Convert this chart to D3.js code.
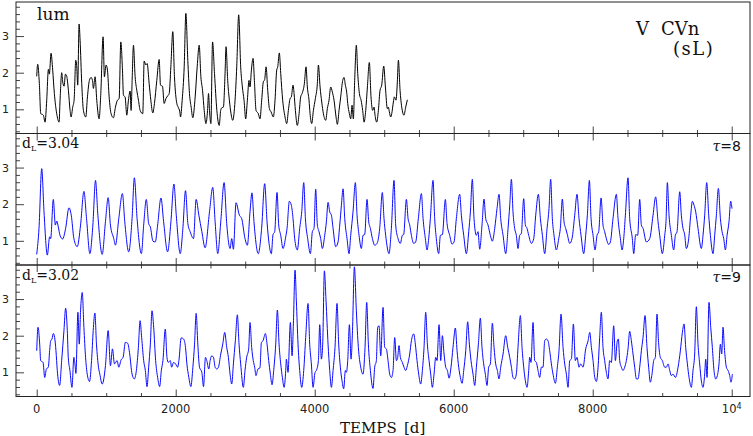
<!DOCTYPE html>
<html>
<head>
<meta charset="utf-8">
<script src="https://cdnjs.cloudflare.com/ajax/libs/d3/7.8.5/d3.min.js"></script>
<style>
  body { margin: 0; background: #fff; }
  svg { display: block; }
</style>
</head>
<body>
<div id="chart"></div>
<script>
// Observed luminosity of V CVn, [time (d), lum]
var lumData = [
  [0,1.90],[14,2.23],[38,1.70],[58,0.88],[82,0.86],[96,0.84],[120,0.65],[144,1.25],[168,2.09],[182,1.96],
  [206,2.53],[230,2.07],[254,1.43],[288,0.88],[322,0.65],[336,1.25],[360,2.00],[374,1.75],[394,1.63],[413,1.96],
  [432,1.90],[456,1.52],[480,0.97],[494,0.79],[518,1.06],[538,1.25],[562,2.34],[576,2.16],[590,1.66],[610,3.33],
  [624,2.89],[648,1.70],[672,0.97],[706,0.79],[730,1.34],[758,1.79],[782,1.87],[802,1.79],[816,1.57],[840,1.89],
  [864,1.25],[898,0.74],[922,1.43],[955,2.98],[974,1.89],[998,2.21],[1018,2.07],[1042,1.34],[1070,0.88],[1104,0.77],
  [1133,1.06],[1162,1.25],[1186,1.29],[1210,2.84],[1234,2.07],[1248,1.38],[1272,1.34],[1296,0.84],[1320,1.25],[1344,1.50],
  [1358,0.97],[1373,1.79],[1392,2.75],[1416,1.89],[1440,1.52],[1464,1.25],[1488,0.97],[1526,0.88],[1546,2.32],[1570,2.21],
  [1589,2.25],[1618,1.70],[1642,1.25],[1670,0.90],[1694,1.16],[1728,1.79],[1762,2.36],[1781,1.66],[1810,1.63],[1834,1.16],
  [1858,1.29],[1886,1.37],[1906,1.43],[1930,2.16],[1958,3.12],[1982,1.89],[2016,1.16],[2035,1.06],[2059,0.93],[2069,0.79],
  [2093,1.25],[2122,2.16],[2146,3.62],[2174,2.34],[2198,1.43],[2222,1.06],[2246,0.77],[2280,1.34],[2309,2.16],[2338,2.75],
  [2362,1.89],[2386,1.52],[2410,0.97],[2434,0.61],[2458,0.97],[2472,1.43],[2486,0.97],[2506,0.61],[2530,2.84],[2558,1.98],
  [2592,0.97],[2626,0.56],[2647,0.97],[2667,1.05],[2686,1.06],[2710,1.98],[2724,2.71],[2748,1.79],[2772,1.25],[2796,0.88],
  [2820,0.70],[2854,1.25],[2878,2.16],[2906,3.58],[2935,2.16],[2959,1.61],[2983,1.25],[3007,0.74],[3031,1.25],[3055,1.79],
  [3069,1.61],[3089,2.07],[3113,2.39],[3132,1.79],[3156,0.97],[3189,0.88],[3213,0.74],[3237,1.25],[3261,1.75],[3280,1.81],
  [3300,2.16],[3324,1.52],[3348,1.02],[3372,0.93],[3405,0.79],[3429,1.25],[3453,2.07],[3468,2.16],[3491,2.54],[3511,1.98],
  [3539,1.25],[3573,0.79],[3597,0.61],[3621,0.97],[3645,1.29],[3664,1.34],[3688,1.66],[3703,1.43],[3722,0.97],[3750,0.56],
  [3775,0.88],[3798,1.34],[3818,1.43],[3851,1.70],[3875,2.16],[3894,1.61],[3918,1.25],[3933,0.88],[3957,0.61],[3981,0.97],
  [4009,1.29],[4038,1.70],[4053,2.21],[4077,1.61],[4101,1.20],[4125,0.88],[4158,0.70],[4182,1.02],[4206,1.25],[4230,1.61],
  [4254,1.47],[4278,1.25],[4307,0.79],[4326,0.59],[4350,0.97],[4374,1.34],[4403,1.79],[4422,1.87],[4441,1.66],[4460,1.47],
  [4475,1.16],[4499,0.88],[4518,0.74],[4537,1.11],[4556,0.74],[4575,1.79],[4599,2.75],[4619,1.98],[4643,1.43],[4667,1.25],
  [4690,0.97],[4710,0.65],[4734,0.97],[4758,1.61],[4786,2.28],[4810,1.34],[4834,0.97],[4854,1.06],[4868,0.84],[4892,0.65],
  [4916,0.97],[4940,1.52],[4964,1.66],[4993,2.18],[5017,1.61],[5045,1.02],[5060,1.06],[5074,0.93],[5093,0.79],[5108,0.88],
  [5132,1.20],[5146,1.34],[5170,1.25],[5189,1.75],[5204,2.34],[5228,1.52],[5252,1.06],[5285,0.84],[5309,1.06],[5333,1.26]
];

// Reconstruction with tau = 8 (dL = 3.04)
var tau8Data = [
  [0,0.63],[33,1.34],[72,2.97],[105,1.79],[153,0.61],[186,1.11],[201,1.06],[239,2.13],[268,1.43],[287,1.54],
  [311,1.38],[335,1.15],[373,1.05],[416,1.34],[464,1.90],[497,1.70],[535,1.06],[583,0.84],[631,1.43],[679,2.35],
  [717,1.61],[765,0.65],[808,1.43],[846,2.65],[880,1.70],[942,0.63],[989,1.52],[1028,2.18],[1061,1.43],[1109,1.06],
  [1133,0.88],[1181,1.61],[1233,2.29],[1267,1.52],[1324,0.70],[1372,1.61],[1405,2.72],[1444,1.61],[1506,0.65],[1539,1.43],
  [1577,2.13],[1611,1.47],[1635,1.38],[1673,0.99],[1706,0.97],[1740,1.43],[1788,2.17],[1826,1.52],[1883,0.70],[1931,1.52],
  [1974,2.55],[2008,1.70],[2065,0.65],[2103,1.34],[2141,2.37],[2175,1.47],[2208,1.25],[2256,1.06],[2294,2.13],[2333,1.70],
  [2376,1.25],[2423,0.81],[2486,1.79],[2533,2.46],[2567,1.52],[2605,0.65],[2648,1.52],[2696,2.59],[2734,1.47],[2782,0.79],
  [2806,1.06],[2830,0.77],[2868,2.04],[2916,1.70],[2949,1.61],[2997,1.06],[3031,0.88],[3069,1.79],[3097,2.31],[3126,1.52],
  [3188,0.65],[3236,1.34],[3280,2.56],[3314,1.52],[3343,0.93],[3376,0.65],[3400,1.17],[3424,1.25],[3458,2.32],[3482,1.43],
  [3511,1.15],[3544,0.79],[3583,1.11],[3602,1.34],[3635,2.08],[3664,1.97],[3688,1.61],[3712,1.06],[3750,0.75],[3784,1.34],
  [3813,1.79],[3842,2.59],[3866,1.61],[3899,1.06],[3938,0.65],[3966,1.25],[3990,1.34],[4014,2.41],[4038,1.43],[4062,1.25],
  [4086,1.06],[4110,0.79],[4144,1.15],[4168,1.52],[4192,2.05],[4216,1.79],[4240,1.70],[4264,1.34],[4302,0.84],[4336,0.97],
  [4360,1.43],[4384,1.97],[4408,2.42],[4432,1.61],[4465,1.06],[4494,0.65],[4518,1.15],[4551,1.79],[4585,2.59],[4609,1.70],
  [4638,1.15],[4671,0.79],[4695,1.15],[4719,1.17],[4753,2.13],[4777,1.52],[4801,1.34],[4830,1.06],[4863,0.88],[4897,0.93],
  [4935,1.34],[4973,2.32],[4997,1.61],[5021,1.15],[5069,0.65],[5103,1.34],[5141,2.65],[5165,1.43],[5199,1.06],[5232,0.93],
  [5261,1.15],[5280,1.17],[5319,2.13],[5343,1.61],[5367,1.43],[5391,1.15],[5424,0.93],[5453,0.97],[5491,1.61],[5535,2.29],
  [5559,1.61],[5592,1.06],[5616,0.75],[5640,1.06],[5664,1.61],[5702,2.65],[5726,1.61],[5750,1.06],[5784,0.65],[5808,1.15],
  [5837,1.17],[5880,2.13],[5904,1.47],[5942,1.15],[5976,0.91],[6005,0.97],[6038,1.61],[6086,2.27],[6110,1.70],[6144,1.15],
  [6182,0.65],[6216,1.25],[6240,1.79],[6268,2.68],[6292,1.61],[6326,1.15],[6350,1.25],[6374,0.77],[6407,1.43],[6436,2.14],
  [6460,1.61],[6494,1.43],[6527,1.15],[6556,0.99],[6590,1.34],[6623,1.88],[6652,2.27],[6676,1.61],[6710,1.15],[6748,0.65],
  [6782,1.34],[6806,1.97],[6830,2.68],[6853,1.79],[6877,1.34],[6901,1.15],[6925,0.79],[6949,1.15],[6973,1.20],[7007,2.15],
  [7031,1.43],[7055,1.34],[7079,1.15],[7117,0.93],[7151,1.06],[7180,1.70],[7218,2.27],[7247,1.61],[7276,1.15],[7309,0.65],
  [7343,1.34],[7371,1.88],[7395,2.68],[7419,1.61],[7443,1.15],[7477,0.75],[7511,1.06],[7534,1.34],[7563,2.14],[7587,1.52],
  [7611,1.34],[7635,1.17],[7669,0.93],[7702,1.06],[7741,1.70],[7774,2.27],[7803,1.61],[7832,1.15],[7870,0.65],[7899,1.15],
  [7923,1.70],[7952,2.65],[7976,1.61],[8005,1.15],[8033,0.75],[8062,1.15],[8086,1.25],[8120,2.17],[8148,1.43],[8172,1.25],
  [8196,1.06],[8230,0.90],[8254,0.97],[8292,1.61],[8340,2.27],[8364,1.61],[8398,1.06],[8422,0.75],[8446,1.06],[8470,1.70],
  [8508,2.72],[8532,1.61],[8570,1.06],[8590,0.65],[8618,1.17],[8647,1.15],[8676,2.13],[8700,1.43],[8724,1.34],[8772,0.97],
  [8820,1.06],[8868,1.70],[8906,2.20],[8940,1.52],[8964,1.15],[9002,0.65],[9036,1.15],[9055,1.55],[9074,2.59],[9098,1.70],
  [9132,1.15],[9165,0.75],[9189,1.15],[9213,1.25],[9252,2.34],[9275,1.70],[9299,1.34],[9323,1.17],[9347,0.79],[9381,1.06],
  [9410,1.70],[9434,2.08],[9458,1.97],[9482,1.79],[9515,1.34],[9563,0.79],[9587,1.15],[9611,1.70],[9640,2.59],[9669,1.70],
  [9693,1.15],[9731,0.65],[9755,1.15],[9779,1.70],[9808,2.43],[9837,1.61],[9861,1.25],[9885,1.06],[9909,0.75],[9933,1.15],
  [9961,1.52],[9985,2.08],[10004,1.88]
];

// Reconstruction with tau = 9 (dL = 3.02)
var tau9Data = [
  [0,1.59],[19,2.23],[43,1.77],[57,1.32],[91,1.27],[115,0.86],[139,1.09],[167,1.14],[186,1.59],[201,1.86],
  [220,1.91],[239,2.06],[258,1.95],[277,1.59],[296,1.05],[330,0.64],[359,1.32],[392,2.14],[416,2.75],[440,2.14],
  [454,1.41],[478,1.05],[507,0.59],[535,1.41],[550,1.23],[564,0.97],[593,2.64],[612,1.77],[631,2.68],[655,3.18],
  [679,2.23],[703,1.41],[727,0.95],[760,0.75],[789,1.32],[813,2.14],[837,2.62],[860,1.77],[889,1.14],[908,0.95],
  [942,0.68],[989,1.18],[1028,2.14],[1061,1.18],[1090,1.64],[1119,1.23],[1157,1.32],[1181,1.14],[1214,1.34],[1243,1.41],
  [1276,1.82],[1310,1.79],[1338,1.50],[1372,0.95],[1405,0.82],[1434,1.05],[1463,1.68],[1487,2.41],[1510,1.95],[1539,1.32],
  [1563,1.05],[1587,0.61],[1611,1.14],[1635,1.77],[1659,2.68],[1683,2.23],[1711,1.32],[1740,0.86],[1769,0.61],[1793,1.05],
  [1816,1.32],[1850,2.18],[1874,1.41],[1893,1.27],[1922,1.32],[1941,1.14],[1969,1.27],[1998,1.23],[2027,1.14],[2046,1.32],
  [2079,1.94],[2113,1.91],[2141,1.68],[2161,1.23],[2189,0.86],[2218,0.61],[2247,1.14],[2271,1.77],[2294,2.61],[2318,1.77],
  [2342,1.14],[2376,1.00],[2400,0.61],[2428,1.41],[2447,1.32],[2476,1.09],[2495,1.32],[2519,1.45],[2543,1.41],[2567,1.14],
  [2591,1.09],[2615,1.14],[2648,1.50],[2677,1.77],[2705,2.09],[2734,1.68],[2758,1.41],[2782,0.95],[2806,0.68],[2830,1.23],
  [2858,1.86],[2887,2.57],[2911,1.77],[2935,1.23],[2973,0.59],[2997,1.05],[3021,1.41],[3050,1.64],[3069,2.36],[3093,1.68],
  [3116,1.32],[3136,1.14],[3155,0.91],[3183,1.09],[3212,1.12],[3233,1.82],[3256,1.86],[3290,2.06],[3314,1.77],[3338,1.32],
  [3362,0.95],[3386,0.66],[3410,1.05],[3439,1.77],[3463,2.70],[3487,1.77],[3511,1.23],[3535,0.86],[3559,0.59],[3583,1.05],
  [3592,1.36],[3616,1.00],[3650,2.36],[3674,1.45],[3693,2.32],[3717,3.79],[3736,2.95],[3760,1.77],[3784,1.05],[3813,0.59],
  [3842,1.05],[3870,1.95],[3904,2.88],[3928,1.77],[3952,1.23],[3976,0.59],[4005,1.00],[4024,1.05],[4053,1.32],[4072,2.30],
  [4096,1.36],[4115,1.77],[4139,3.77],[4163,2.95],[4192,1.77],[4216,1.05],[4240,0.59],[4264,1.05],[4292,1.68],[4321,2.88],
  [4345,1.77],[4369,1.14],[4393,0.77],[4417,0.55],[4441,1.05],[4456,1.00],[4475,1.32],[4499,2.30],[4523,1.36],[4542,2.05],
  [4571,3.88],[4599,2.68],[4628,1.68],[4662,1.14],[4695,0.95],[4724,1.68],[4748,2.91],[4772,1.77],[4801,1.05],[4839,0.56],
  [4863,1.14],[4887,1.32],[4906,2.23],[4925,2.27],[4950,1.45],[4983,2.77],[5007,1.68],[5031,1.64],[5055,1.32],[5079,0.95],
  [5103,0.86],[5127,1.05],[5151,1.95],[5175,1.32],[5194,1.41],[5213,1.73],[5232,1.41],[5261,1.27],[5285,1.14],[5309,1.05],
  [5333,1.18],[5367,1.50],[5391,1.86],[5424,2.05],[5448,1.77],[5472,1.32],[5496,0.95],[5525,0.68],[5549,1.05],[5573,1.68],
  [5597,2.64],[5621,1.77],[5645,1.32],[5669,0.95],[5693,0.59],[5717,0.95],[5741,1.41],[5760,1.32],[5789,2.30],[5813,1.32],
  [5837,2.00],[5861,1.50],[5885,1.14],[5909,1.05],[5933,0.84],[5961,1.14],[5990,1.68],[6024,2.21],[6048,1.59],[6072,1.14],
  [6096,0.86],[6120,0.70],[6144,1.05],[6173,1.59],[6201,2.38],[6225,1.77],[6249,1.32],[6278,0.95],[6302,0.64],[6326,1.14],
  [6355,1.77],[6383,2.48],[6407,1.68],[6431,1.23],[6455,0.95],[6479,0.64],[6503,1.14],[6527,1.23],[6556,2.34],[6580,1.68],
  [6604,1.23],[6628,1.05],[6652,0.82],[6676,1.14],[6710,1.50],[6748,2.00],[6777,1.68],[6806,1.41],[6830,1.14],[6853,0.86],
  [6877,0.82],[6901,0.95],[6925,1.68],[6959,2.55],[6983,1.68],[7007,1.14],[7031,0.77],[7055,0.59],[7079,1.05],[7093,1.41],
  [7112,1.27],[7141,2.36],[7165,1.32],[7189,1.27],[7213,1.05],[7237,0.86],[7261,1.14],[7285,1.14],[7309,1.86],[7333,1.91],
  [7357,1.86],[7381,1.59],[7405,1.23],[7429,0.95],[7463,0.70],[7491,1.14],[7515,1.59],[7544,2.59],[7573,1.68],[7597,1.23],
  [7621,0.95],[7645,0.59],[7669,1.32],[7693,1.36],[7722,2.32],[7750,1.32],[7774,1.41],[7803,1.14],[7827,1.23],[7861,1.14],
  [7899,1.64],[7933,1.86],[7957,2.09],[7981,1.68],[8005,1.32],[8029,0.86],[8053,0.75],[8077,1.14],[8100,1.95],[8124,2.64],
  [8148,1.68],[8172,1.32],[8196,1.00],[8220,0.82],[8244,1.32],[8268,1.27],[8302,2.27],[8326,1.32],[8354,1.86],[8369,1.91],
  [8388,1.32],[8412,1.14],[8436,1.05],[8460,1.14],[8484,1.32],[8508,1.64],[8532,2.12],[8556,1.86],[8580,1.50],[8604,1.14],
  [8628,0.82],[8652,0.82],[8676,1.14],[8700,1.59],[8724,1.95],[8753,2.55],[8781,1.68],[8805,1.14],[8829,0.73],[8853,0.95],
  [8877,1.32],[8901,1.41],[8925,2.59],[8949,1.77],[8973,1.41],[9002,1.32],[9036,1.14],[9060,1.14],[9084,1.23],[9108,1.05],
  [9132,0.91],[9156,0.95],[9190,0.86],[9228,1.14],[9261,1.59],[9290,2.09],[9314,2.32],[9338,1.68],[9362,1.23],[9386,0.86],
  [9419,0.59],[9443,1.05],[9467,1.50],[9491,2.79],[9515,1.77],[9539,1.23],[9563,0.77],[9587,0.59],[9611,0.95],[9626,1.36],
  [9645,0.86],[9673,2.91],[9698,2.23],[9721,1.68],[9745,1.05],[9770,0.82],[9793,0.91],[9817,1.23],[9837,1.77],[9856,1.50],
  [9875,2.23],[9894,1.68],[9923,1.14],[9947,1.05],[9971,0.91],[9990,0.73],[10009,0.95]
];

// Axis ticks and labels
var xTickValues = [0, 2000, 4000, 6000, 8000, 10000];
var xTickLabels = ['0', '2000', '4000', '6000', '8000', '10'];
var yTickValues = [1, 2, 3];
var dimLabels = ['', '3.04', '3.02'];
var tauLabels = ['', '8', '9'];

// Layout constants
var WIDTH = 753,
    HEIGHT = 436,
    LEFT = 16,
    RIGHT = 750,
    TOP = 2,
    PANEL_H = 131.5,
    MAJOR = 7,   // px
    MINOR = 3.5; // px

var COLORS = {
  FRAME: '#222',
  TICK: '#444',
  LUM: '#000',
  MODEL: '#0a0aff'
};

var svg = d3.select('#chart')
  .append('svg')
  .attr('width', WIDTH)
  .attr('height', HEIGHT);

var x = d3.scaleLinear()
  .domain([-298, 10263])
  .range([LEFT, RIGHT]);

var xMinor = d3.range(0, 10001, 500).filter(function(d) { return d % 2000 !== 0; });
var yMinor = d3.range(0.4, 3.9, 0.2).filter(function(d) { return Math.abs(d - Math.round(d)) > 0.05; });

var panels = [
  {data: lumData, color: COLORS.LUM},
  {data: tau8Data, color: COLORS.MODEL},
  {data: tau9Data, color: COLORS.MODEL}
];

function stripDomain(g) {
  g.select('.domain').remove();
  g.selectAll('.tick line').attr('stroke', COLORS.TICK);
}

panels.forEach(function(p, i) {
  var top = TOP + i * PANEL_H,
      bottom = top + PANEL_H;

  var y = d3.scaleLinear()
    .domain([0.34, 3.93])
    .range([bottom, top]);

  var clipId = 'clip' + i;
  svg.append('clipPath').attr('id', clipId)
    .append('rect')
    .attr('x', LEFT).attr('y', top)
    .attr('width', RIGHT - LEFT).attr('height', PANEL_H);

  // the curve
  var line = d3.line()
    .x(function(d) { return x(d[0]); })
    .y(function(d) { return y(d[1]); })
    .curve(d3.curveMonotoneX);

  svg.append('path')
    .datum(p.data)
    .attr('clip-path', 'url(#' + clipId + ')')
    .attr('fill', 'none')
    .attr('stroke', p.color)
    .attr('stroke-width', 1)
    .attr('stroke-linejoin', 'round')
    .attr('d', line);

  // bottom edge ticks, pointing up
  svg.append('g')
    .attr('transform', 'translate(0,' + bottom + ')')
    .call(d3.axisTop(x).tickValues(xTickValues).tickSize(MAJOR).tickFormat(''))
    .call(stripDomain);
  svg.append('g')
    .attr('transform', 'translate(0,' + bottom + ')')
    .call(d3.axisTop(x).tickValues(xMinor).tickSize(MINOR).tickFormat(''))
    .call(stripDomain);

  // top edge ticks, pointing down (not on the first panel)
  if (i > 0) {
    svg.append('g')
      .attr('transform', 'translate(0,' + top + ')')
      .call(d3.axisBottom(x).tickValues(xTickValues).tickSize(MAJOR).tickFormat(''))
      .call(stripDomain);
    svg.append('g')
      .attr('transform', 'translate(0,' + top + ')')
      .call(d3.axisBottom(x).tickValues(xMinor).tickSize(MINOR).tickFormat(''))
      .call(stripDomain);
  }

  // left ticks, pointing right
  svg.append('g')
    .attr('transform', 'translate(' + LEFT + ',0)')
    .call(d3.axisRight(y).tickValues(yTickValues).tickSize(8).tickFormat(''))
    .call(stripDomain);
  svg.append('g')
    .attr('transform', 'translate(' + LEFT + ',0)')
    .call(d3.axisRight(y).tickValues(yMinor).tickSize(4).tickFormat(''))
    .call(stripDomain);

  // y tick labels
  svg.selectAll('.ylab' + i)
    .data(yTickValues)
    .enter().append('text')
    .attr('x', 5.5)
    .attr('y', function(d) { return y(d) + 4; })
    .attr('text-anchor', 'middle')
    .attr('font-family', 'DejaVu Sans')
    .attr('font-size', '11px')
    .attr('fill', '#222')
    .text(function(d) { return d; });

  // panel frame
  svg.append('rect')
    .attr('x', LEFT).attr('y', top)
    .attr('width', RIGHT - LEFT).attr('height', PANEL_H)
    .attr('fill', 'none')
    .attr('stroke', COLORS.FRAME)
    .attr('stroke-width', 1);

  // panel annotations
  if (i > 0) {
    var dl = svg.append('text')
      .attr('x', 22)
      .attr('y', top + 14.5)
      .attr('font-family', 'DejaVu Serif')
      .attr('font-size', '14px')
      .attr('fill', '#111');
    dl.append('tspan').text('d');
    dl.append('tspan').attr('font-size', '8px').attr('dy', 3).text('L');
    dl.append('tspan').attr('dy', -3).text('=' + dimLabels[i]);

    var tl = svg.append('text')
      .attr('x', 741)
      .attr('y', top + 17)
      .attr('text-anchor', 'end')
      .attr('font-family', 'DejaVu Sans')
      .attr('font-size', '14px')
      .attr('fill', '#111');
    tl.append('tspan').attr('font-style', 'italic').attr('font-family', 'DejaVu Serif').text('\u03c4');
    tl.append('tspan').text('=' + tauLabels[i]);
  }
});

// top panel labels
svg.append('text')
  .attr('x', 37).attr('y', 19.5)
  .attr('font-family', 'DejaVu Serif')
  .attr('font-size', '17px')
  .attr('fill', '#111')
  .text('lum');

svg.append('text')
  .attr('x', 636).attr('y', 35)
  .attr('font-family', 'DejaVu Serif')
  .attr('font-size', '18px')
  .attr('fill', '#111')
  .text('V');
svg.append('text')
  .attr('x', 661).attr('y', 35)
  .attr('font-family', 'DejaVu Serif')
  .attr('font-size', '18px')
  .attr('fill', '#111')
  .text('CVn');
svg.append('text')
  .attr('x', 673).attr('y', 55)
  .attr('font-family', 'DejaVu Serif')
  .attr('font-size', '18px')
  .attr('letter-spacing', '1.5px')
  .attr('fill', '#111')
  .text('(sL)');

// x tick labels under the bottom panel
var axisY = TOP + 3 * PANEL_H;
svg.selectAll('.xlab')
  .data(xTickValues)
  .enter().append('text')
  .attr('x', function(d) { return x(d); })
  .attr('y', axisY + 16.5)
  .attr('text-anchor', 'middle')
  .attr('font-family', 'DejaVu Sans')
  .attr('font-size', '11.5px')
  .attr('fill', '#222')
  .each(function(d, i) {
    var t = d3.select(this);
    t.append('tspan').text(xTickLabels[i]);
    if (d === 10000) {
      t.append('tspan').attr('font-size', '8px').attr('dy', -4).text('4');
    }
  });

// axis title
svg.append('text')
  .attr('x', 340).attr('y', axisY + 36.5)
  .attr('font-family', 'DejaVu Serif')
  .attr('font-size', '15px')
  .attr('fill', '#111')
  .text('TEMPS');
svg.append('text')
  .attr('x', 404).attr('y', axisY + 36.5)
  .attr('font-family', 'DejaVu Serif')
  .attr('font-size', '15px')
  .attr('fill', '#111')
  .text('[d]');
</script>
</body>
</html>
